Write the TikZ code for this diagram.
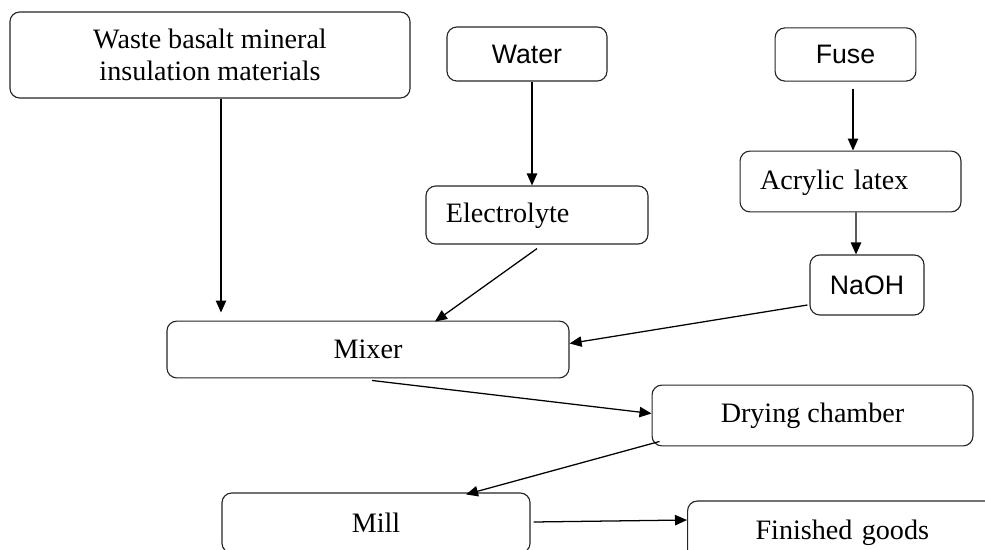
\documentclass[tikz,border=0pt]{standalone}
\usepackage{fontspec}
\setmainfont{Liberation Serif}
\newfontfamily\arialf{Liberation Sans}
\usetikzlibrary{arrows.meta,calc}
\tikzset{
  box/.style={draw=black!85, line width=0.8pt, rounded corners=7pt, inner sep=0pt, fill=white, font=\fontsize{20}{23}\selectfont, align=center},
  sbox/.style={box, font=\arialf\fontsize{19}{22}\selectfont},
  lbox/.style={box, align=left, inner xsep=0.5cm},
  flow/.style={-{Triangle[length=3mm,width=2.6mm]}, line width=0.9pt, black},
}

\begin{document}
\begin{tikzpicture}[x=0.025cm,y=-0.025cm]
\useasboundingbox (0,0) rectangle (985,550);
\clip (0,0) rectangle (985,550);
% sources
\node[box, minimum width=10cm, minimum height=2.15cm] (waste) at (210,55) {Waste basalt mineral\\insulation materials};
\node[sbox, minimum width=4cm, minimum height=1.35cm] (water) at (527,54) {Water};
\node[sbox, minimum width=3.52cm, minimum height=1.33cm] (fuse) at (845.5,54.5) {Fuse};
\node[lbox, text width=4.55cm, minimum height=1.45cm, text depth=0.12cm] (electro) at (537,215) {Electrolyte};
\node[lbox, text width=4.52cm, minimum height=1.52cm, text depth=0.1cm] (acryl) at (850.5,181.5) {Acrylic latex};
\node[sbox, minimum width=2.85cm, minimum height=1.5cm] (naoh) at (867,285) {NaOH};
% process line
\node[box, minimum width=10.05cm, minimum height=1.42cm] (mixer) at (368,349.5) {Mixer};
\node[box, minimum width=8.02cm, minimum height=1.52cm] (dryer) at (812.5,415.5) {Drying chamber};
\node[box, minimum width=7.7cm, minimum height=1.5cm] (mill) at (376,523) {Mill};
\node[lbox, anchor=west, inner xsep=1.7cm, text width=8cm, minimum height=1.6cm] (goods) at (687,533) {Finished goods};
% connectors
\draw[flow] ($(waste.south)+(11,0)$) -- ($(mixer.north)+(-147,-8)$);
\draw[flow] ($(water.south)+(5,0)$) -- ($(electro.north)+(-5,0)$);
\draw[flow] ($(fuse.south)+(7.5,7)$) -- ($(acryl.north)+(2.5,0)$);
\draw[flow] ($(acryl.south)+(5.5,0)$) -- ($(naoh.north)+(-11,0)$);
\draw[flow] ($(electro.south)+(0,4)$) -- ($(mixer.north)+(67,1)$);
\draw[flow] ($(naoh.west)+(-2,20)$) -- ($(mixer.east)+(0,-6)$);
\draw[flow] ($(mixer.south)+(4,2)$) -- ($(dryer.west)+(0,-2)$);
\draw[flow] ($(dryer.south west)+(8,-5)$) -- ($(mill.north)+(90,2)$);
\draw[flow] ($(mill.east)+(3,-1)$) -- ($(goods.west)+(0,-13)$);
\end{tikzpicture}
\end{document}
